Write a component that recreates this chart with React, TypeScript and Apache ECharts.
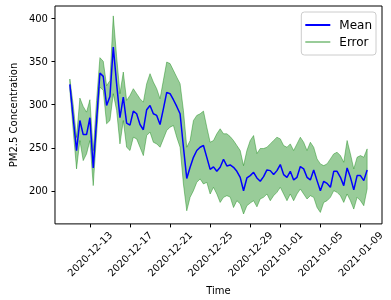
import React, { useEffect, useRef } from 'react';
import * as echarts from 'echarts';

const startTime = '2020-12-11T00:00:00Z';
const stepHours = 8;

const meanValues = [
  323.6, 285, 246.7, 281.7, 265.4, 265.4, 284.9, 226.7, 282, 336.8,
  332.9, 299.2, 309.6, 367, 324.4, 284.9, 308.8, 278.6, 276.3, 292.6,
  289.5, 277.1, 271, 294.2, 299.2, 289.5, 287.6, 277.1, 295.2, 314.3,
  312.8, 305.8, 298, 289.5, 251, 214.5, 227.4, 239, 246.9, 250.7,
  252.7, 239, 225, 227.9, 222.8, 227.4, 236.8, 229, 230.2, 227.4,
  222.8, 215.8, 200.3, 215.1, 217.8, 221.6, 215.1, 211.2, 216.6, 224.4,
  223.6, 219, 223.6, 230.6, 219, 215.8, 222.8, 212.8, 215.8, 228.3,
  225.6, 215.8, 212.8, 224.4, 212, 200.3, 211.2, 208.8, 204.2, 222.8,
  222.8, 215.8, 206.2, 226.7, 215.8, 201.2, 217.8, 217.8, 212, 224.4
];

const upperValues = [
  329.8, 300, 262, 307.7, 298, 291.4, 305.8, 246.8, 305, 354.6,
  350.3, 322, 328, 403, 356, 312.8, 337.9, 305, 310.8, 318.6,
  312.8, 307, 303, 324.4, 336, 326.3, 318.6, 307, 328.3, 349.5,
  347.7, 339.9, 332, 324.4, 293.4, 250.7, 258.5, 281.7, 287.6, 289.5,
  292.6, 274, 256.5, 258.5, 266.3, 272.1, 266.3, 266.3, 263.1, 258.5,
  252.7, 246.9, 229.4, 246.9, 258.5, 264.3, 243.4, 249.2, 249.2, 250.7,
  254.6, 258.5, 262.3, 260.4, 252.7, 250.7, 254.6, 246.9, 254.6, 262.3,
  256.5, 246.9, 256.5, 250.7, 237.2, 231.4, 229.4, 231.4, 237.2, 243,
  244.9, 241, 233.3, 258.5, 243, 225.6, 239.1, 241, 239.1, 248.8
];

const lowerValues = [
  317, 270, 225.6, 258.5, 235.2, 243, 258.5, 206.2, 265, 320.5,
  316.6, 277.9, 281.7, 312.8, 293.4, 254.6, 281.7, 250.7, 246.9, 262.3,
  260.4, 250.7, 241, 264.3, 268.2, 256.5, 254.6, 250.7, 260.4, 270.1,
  274, 275.9, 262.3, 250.7, 208.1, 177, 192.6, 200.3, 210, 214,
  208.1, 210, 196.5, 204.2, 196.5, 186.7, 192.6, 194.5, 193, 180.8,
  188.7, 185, 173.3, 182.9, 186, 188.7, 181.6, 190.8, 192.6, 196.5,
  188.7, 194.5, 198.4, 204.2, 196.5, 188.7, 196.5, 188.7, 196.5, 202.3,
  196.5, 190.7, 194.5, 192.6, 180.9, 175.1, 186.7, 188.7, 192.6, 200.3,
  198.4, 194.5, 186.7, 196.5, 188.7, 179, 192.6, 188.7, 182.9, 202.3
];

const tickLabels = [
  '2020-12-13', '2020-12-17', '2020-12-21', '2020-12-25',
  '2020-12-29', '2021-01-01', '2021-01-05', '2021-01-09'
];
const yTicks = [200, 250, 300, 350, 400];

const seriesNames = ['Mean', 'Error'];

export default function App() {
  const ref = useRef<HTMLDivElement>(null);
  useEffect(() => {
    const chart = echarts.init(ref.current!, null, { renderer: 'svg' });
    const t0 = Date.parse(startTime);
    const step = stepHours * 3600 * 1000;
    const times = meanValues.map((_, i) => t0 + i * step);
    const tLast = times[times.length - 1];
    const span = tLast - t0;
    const tickTimes = tickLabels.map((s) => Date.parse(s + 'T00:00:00Z'));
    const yLo = Math.min(...lowerValues);
    const yHi = Math.max(...upperValues);
    const yr = yHi - yLo;
    const font = 'DejaVu Sans';
    const edge = 'rgba(0,128,0,0.4)';

    chart.setOption({
      animation: false,
      textStyle: { fontFamily: font },
      grid: {
        left: 48, right: 9, top: 6, bottom: 76,
        show: true, borderColor: '#000', borderWidth: 1,
        backgroundColor: 'transparent'
      },
      legend: {
        orient: 'vertical',
        right: 15,
        top: 12,
        padding: [7, 4, 7, 4],
        itemGap: 5,
        itemWidth: 25,
        itemHeight: 2,
        borderColor: '#cccccc',
        borderWidth: 1,
        borderRadius: 3,
        backgroundColor: 'rgba(255,255,255,0.8)',
        textStyle: { fontSize: 12, color: '#000', fontFamily: font, padding: [0, 0, 0, 4] },
        data: [
          { name: seriesNames[0], icon: 'rect', itemStyle: { color: '#0000ff' } },
          { name: seriesNames[1], icon: 'rect', itemStyle: { color: edge } }
        ]
      },
      xAxis: {
        type: 'value',
        min: t0 - 0.05 * span,
        max: tLast + 0.05 * span,
        name: 'Time',
        nameLocation: 'middle',
        nameGap: 57,
        nameTextStyle: { fontSize: 10, color: '#000', fontFamily: font },
        axisLine: { show: false },
        splitLine: { show: false },
        axisTick: {
          show: true,
          customValues: tickTimes,
          length: 3.5,
          lineStyle: { color: '#000', width: 1 }
        },
        axisLabel: {
          customValues: tickTimes,
          rotate: 45,
          align: 'center',
          verticalAlign: 'middle',
          margin: 30,
          fontSize: 10,
          color: '#000',
          fontFamily: font,
          formatter: (v: number) => {
            let best = -1;
            let bd = Infinity;
            tickTimes.forEach((t, i) => {
              const d = Math.abs(t - v);
              if (d < bd) { bd = d; best = i; }
            });
            return best >= 0 && bd < 3600000 ? tickLabels[best] : '';
          }
        }
      },
      yAxis: {
        type: 'value',
        min: yLo - 0.05 * yr,
        max: yHi + 0.05 * yr,
        name: 'PM2.5 Concentration',
        nameLocation: 'middle',
        nameGap: 31,
        nameTextStyle: { fontSize: 10, color: '#000', fontFamily: font },
        axisLine: { show: false },
        splitLine: { show: false },
        axisTick: {
          show: true,
          customValues: yTicks,
          length: 3.5,
          lineStyle: { color: '#000', width: 1 }
        },
        axisLabel: {
          customValues: yTicks,
          margin: 7,
          fontSize: 10,
          color: '#000',
          fontFamily: font
        }
      },
      series: [
        {
          name: seriesNames[1],
          type: 'custom',
          data: times.map((t, i) => [t, lowerValues[i], upperValues[i]]),
          encode: { x: 0, y: [1, 2] },
          z: 1,
          renderItem: (params: any, api: any) => {
            if (params.dataIndex !== 0) return null;
            const up = times.map((t, i) => api.coord([t, upperValues[i]]));
            const lo = times.map((t, i) => api.coord([t, lowerValues[i]])).reverse();
            return {
              type: 'polygon',
              shape: { points: up.concat(lo) },
              style: { fill: edge, stroke: edge, lineWidth: 1 }
            };
          }
        },
        {
          name: seriesNames[0],
          type: 'line',
          symbol: 'none',
          lineStyle: { color: '#0000ff', width: 1.5 },
          data: times.map((t, i) => [t, meanValues[i]]),
          z: 3
        }
      ]
    });
    return () => chart.dispose();
  }, []);
  return (
    <div
      ref={ref}
      style={{ position: 'fixed', left: 0, top: 0, width: 391, height: 300 }}
    />
  );
}
